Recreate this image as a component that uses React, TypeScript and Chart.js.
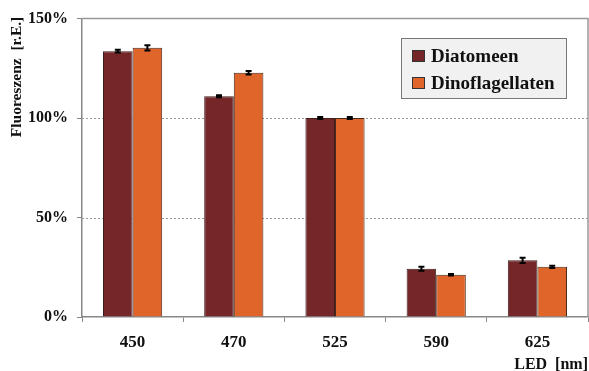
import React, { useEffect, useRef } from "react";
import { Chart, registerables } from "chart.js";

Chart.register(...registerables);

const categories = ["450", "470", "525", "590", "625"];
const diatomeen = [133.6, 111.0, 100.0, 24.3, 28.5];
const diatomeenErr = [0.7, 0.5, 0.5, 1.0, 1.3];
const dinoflagellaten = [135.3, 122.8, 100.0, 21.2, 25.2];
const dinoflagellatenErr = [1.3, 0.9, 0.5, 0.4, 0.6];
const yTicks = [0, 50, 100, 150];
const seriesNames = ["Diatomeen", "Dinoflagellaten"];
const colors = ["#752628", "#e0652b"];

const SERIF = '"Liberation Serif", "Times New Roman", serif';

export default function App() {
  const ref = useRef<HTMLCanvasElement>(null);
  useEffect(() => {
    if (!ref.current) return;
    const errs = [diatomeenErr, dinoflagellatenErr];
    const decor = {
      id: "decor",
      beforeDatasetsDraw(chart: any) {
        const { ctx, chartArea, scales } = chart;
        const y = scales.y;
        ctx.save();
        ctx.lineWidth = 1;
        ctx.strokeStyle = "#9a9a9a";
        ctx.setLineDash([2, 2]);
        for (const v of [50, 100]) {
          const py = Math.round(y.getPixelForValue(v)) + 0.5;
          ctx.beginPath();
          ctx.moveTo(chartArea.left, py);
          ctx.lineTo(chartArea.right, py);
          ctx.stroke();
        }
        ctx.setLineDash([]);
        ctx.strokeStyle = "#999";
        ctx.lineWidth = 1.5;
        const top = y.getPixelForValue(150);
        ctx.beginPath();
        ctx.moveTo(chartArea.left, top);
        ctx.lineTo(chartArea.right, top);
        ctx.lineTo(chartArea.right, chartArea.bottom);
        ctx.stroke();
        ctx.restore();
      },
      afterDatasetsDraw(chart: any) {
        const { ctx, scales } = chart;
        const y = scales.y;
        ctx.save();
        ctx.strokeStyle = "#000";
        ctx.lineWidth = 2;
        chart.data.datasets.forEach((ds: any, di: number) => {
          const meta = chart.getDatasetMeta(di);
          meta.data.forEach((bar: any, i: number) => {
            const v = ds.data[i];
            const e = errs[di][i];
            const x = bar.x;
            const y1 = y.getPixelForValue(v + e);
            const y2 = y.getPixelForValue(v - e);
            ctx.beginPath();
            ctx.moveTo(x, y1);
            ctx.lineTo(x, y2);
            ctx.moveTo(x - 3, y1);
            ctx.lineTo(x + 3, y1);
            ctx.moveTo(x - 3, y2);
            ctx.lineTo(x + 3, y2);
            ctx.stroke();
          });
        });
        ctx.restore();
      },
      afterDraw(chart: any) {
        const { ctx } = chart;
        ctx.save();
        ctx.fillStyle = "#111";
        ctx.font = `bold 15.5px ${SERIF}`;
        ctx.translate(17, 77);
        ctx.rotate(-Math.PI / 2);
        ctx.textAlign = "center";
        ctx.textBaseline = "middle";
        ctx.fillText("Fluoreszenz  [r.E.]", 0, 0);
        ctx.restore();
        ctx.save();
        ctx.fillStyle = "#111";
        ctx.font = `bold 16px ${SERIF}`;
        ctx.textAlign = "right";
        ctx.textBaseline = "middle";
        ctx.fillText("LED  [nm]", 588, 365);
        // legend
        ctx.fillStyle = "#f1f1f1";
        ctx.fillRect(401, 38, 165, 60);
        ctx.strokeStyle = "#777";
        ctx.lineWidth = 1;
        ctx.strokeRect(401.5, 38.5, 165, 60);
        const ly = [56, 83];
        seriesNames.forEach((n, i) => {
          ctx.fillStyle = colors[i];
          ctx.fillRect(412, ly[i] - 6, 13, 12);
          ctx.strokeStyle = "#333";
          ctx.strokeRect(412.5, ly[i] - 5.5, 12, 11);
          ctx.fillStyle = "#111";
          ctx.font = `bold 19px ${SERIF}`;
          ctx.textAlign = "left";
          ctx.textBaseline = "middle";
          ctx.fillText(n, 431, ly[i] + 1);
        });
        ctx.restore();
      },
    };
    const chart = new Chart(ref.current, {
      type: "bar",
      data: {
        labels: categories,
        datasets: [
          {
            label: seriesNames[0],
            data: diatomeen,
            backgroundColor: colors[0],
            borderColor: "#3d1d1d",
            borderWidth: 1,
            categoryPercentage: 0.585,
            barPercentage: 1,
          },
          {
            label: seriesNames[1],
            data: dinoflagellaten,
            backgroundColor: colors[1],
            borderColor: "#4a2a1a",
            borderWidth: 1,
            categoryPercentage: 0.585,
            barPercentage: 1,
          },
        ],
      },
      options: {
        responsive: false,
        animation: false,
        layout: { padding: { left: 0, top: 17, right: 1, bottom: 0 } },
        plugins: { legend: { display: false }, tooltip: { enabled: false } },
        scales: {
          x: {
            offset: true,
            grid: {
              offset: true,
              drawOnChartArea: false,
              drawTicks: true,
              tickLength: 5,
              color: "#888",
            },
            border: { color: "#888", width: 1.5 },
            ticks: {
              padding: 10,
              color: "#111",
              font: { family: SERIF, size: 17, weight: "bold" },
            },
            afterFit: (s: any) => {
              s.height = 54;
            },
          },
          y: {
            min: 0,
            max: 150,
            afterBuildTicks: (s: any) => {
              s.ticks = yTicks.map((v) => ({ value: v }));
            },
            grid: {
              drawOnChartArea: false,
              drawTicks: true,
              tickLength: 5,
              color: "#888",
            },
            border: { color: "#888", width: 1.5 },
            ticks: {
              padding: 9,
              color: "#111",
              font: { family: SERIF, size: 16, weight: "bold" },
              callback: (v: any) => v + "%",
            },
            afterFit: (s: any) => {
              s.width = 82;
            },
          },
        },
      },
      plugins: [decor],
    });
    return () => chart.destroy();
  }, []);
  return (
    <div style={{ position: "fixed", left: 0, top: 0, width: 589, height: 371, background: "#fff" }}>
      <canvas ref={ref} width={589} height={371} />
    </div>
  );
}
